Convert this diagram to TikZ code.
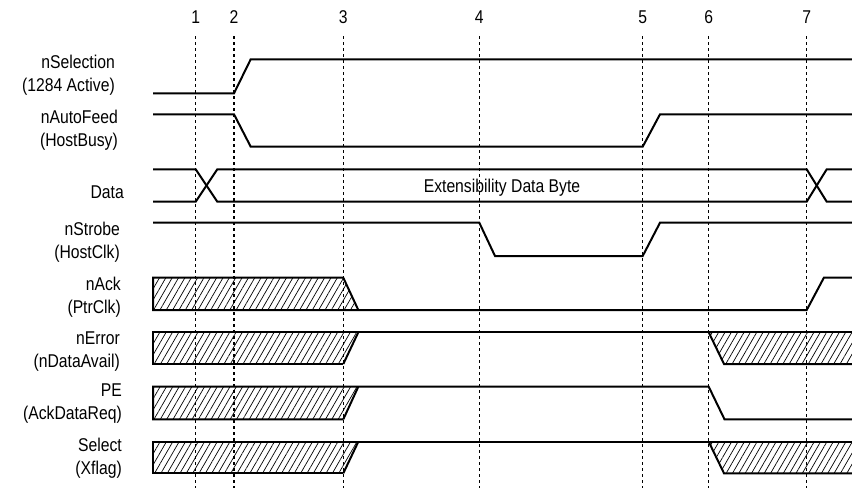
\documentclass[tikz,border=0pt]{standalone}
\usepackage{fontspec}
\setmainfont[FakeStretch=0.85]{Liberation Sans}
\usetikzlibrary{patterns.meta}
\begin{document}
\begin{tikzpicture}[x=1pt,y=-1pt,
  wave/.style={line width=2pt, line join=miter},
  guide/.style={line width=1.3pt, dash pattern=on 3pt off 3pt},
  hatch/.style={pattern={Lines[angle=60,distance=5.5pt,line width=0.7pt]}},
  lbl/.style={font=\fontsize{18.5}{23}\selectfont, inner sep=0pt, align=right, anchor=east},
  txt/.style={font=\fontsize{18.5}{23}\selectfont, inner sep=0pt},
]
\useasboundingbox (0,0) rectangle (852,488);
% hatched regions
\fill[hatch] (153,277.7) -- (343.3,277.7) -- (358.3,310) -- (153,310) -- cycle;
\fill[hatch] (153,332.3) -- (358.3,332.3) -- (343.3,364) -- (153,364) -- cycle;
\fill[hatch] (708.7,332.3) -- (852,332.3) -- (852,364) -- (724,364) -- cycle;
\fill[hatch] (153,386.7) -- (358.3,386.7) -- (343.3,419.3) -- (153,419.3) -- cycle;
\fill[hatch] (153,441.7) -- (358.3,441.7) -- (343.3,473.3) -- (153,473.3) -- cycle;
\fill[hatch] (708.7,441.7) -- (852,441.7) -- (852,473.3) -- (724,473.3) -- cycle;
% guides and numbers
\foreach \n/\x in {1/195.7,2/234,3/343.3,4/479.3,5/642.7,6/708.7,7/806.7}{
  \node[txt, anchor=base] (t\n) at (\x,23) {\n};
  \draw[guide] (\x,36) -- (\x,488);
}
% nSelection
\draw[wave] (153,93.3) -- (234,93.3) -- (250.7,59.3) -- (852,59.3);
% nAutoFeed
\draw[wave] (153,114.3) -- (234,114.3) -- (250.7,146.7) -- (642.7,146.7) -- (660,114.3) -- (852,114.3);
% Data
\draw[wave] (153,169.3) -- (195.7,169.3) -- (217.3,201.7) -- (806.7,201.7) -- (826.7,169.3) -- (852,169.3);
\draw[wave] (153,201.7) -- (195.7,201.7) -- (217.3,169.3) -- (806.7,169.3) -- (826.7,201.7) -- (852,201.7);
% nStrobe
\draw[wave] (153,222.7) -- (479.3,222.7) -- (495,256) -- (642.7,256) -- (660,222.7) -- (852,222.7);
% nAck
\draw[wave] (343.3,277.7) -- (153,277.7) -- (153,310) -- (806.7,310) -- (824,277.5) -- (852,277.5);
\draw[wave] (343.3,277.7) -- (358.3,310);
% nError
\draw[wave] (343.3,364) -- (153,364) -- (153,332.3) -- (852,332.3);
\draw[wave] (343.3,364) -- (358.3,332.3);
\draw[wave] (708.7,332.3) -- (724,364) -- (852,364);
% PE
\draw[wave] (343.3,419.3) -- (153,419.3) -- (153,386.7) -- (708.7,386.7) -- (724.5,419.3) -- (852,419.3);
\draw[wave] (343.3,419.3) -- (358.3,386.7);
% Select
\draw[wave] (343.3,473.3) -- (153,473.3) -- (153,441.7) -- (852,441.7);
\draw[wave] (343.3,473.3) -- (358.3,441.7);
\draw[wave] (708.7,441.7) -- (724,473.3) -- (852,473.3);
% labels
\node[lbl] (lsel) at (115,75) {nSelection\\(1284 Active)};
\node[lbl] (lauto) at (118,130) {nAutoFeed\\(HostBusy)};
\node[txt, anchor=base east] (ldata) at (124,198) {Data};
\node[txt, anchor=base] (lext) at (502,192.7) {Extensibility Data Byte};
\node[lbl] (lstrobe) at (120,242) {nStrobe\\(HostClk)};
\node[lbl] (lack) at (121,297) {nAck\\(PtrClk)};
\node[lbl] (lerr) at (120,352) {nError\\(nDataAvail)};
\node[lbl] (lpe) at (122,404) {PE\\(AckDataReq)};
\node[lbl] (lsel2) at (122,458) {Select\\(Xflag)};
\end{tikzpicture}
\end{document}
